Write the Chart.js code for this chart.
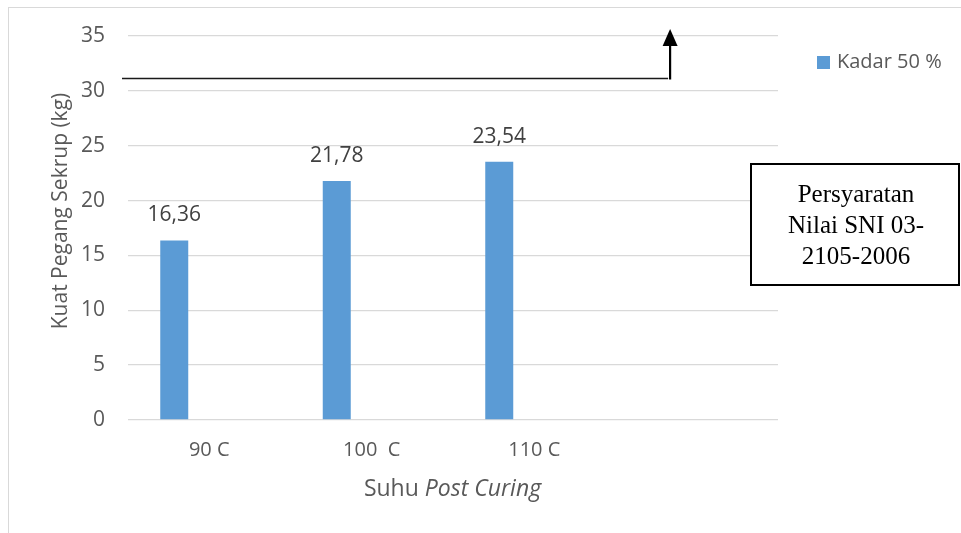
<!DOCTYPE html>
<html>
<head>
<meta charset="utf-8">
<script src="https://cdn.jsdelivr.net/npm/chart.js@4.4.1/dist/chart.umd.min.js"></script>
<style>
  html, body { margin: 0; padding: 0; background: #fff; }
  #wrap { position: relative; width: 961px; height: 533px; overflow: hidden; }
  #frame { position: absolute; left: 8px; top: 7px; width: 1000px; height: 600px;
           border-left: 1px solid #d9d9d9; border-top: 1px solid #d9d9d9; }
  canvas { position: absolute; left: 0; top: 0; }
</style>
</head>
<body>
<div id="wrap">
  <div id="frame"></div>
  <canvas id="c" width="961" height="533"></canvas>
</div>
<script>
// ---- data ----
const categories = ["90 C", "100  C", "110 C", ""];
const seriesName = "Kadar 50 %";
const kadar50 = [16.36, 21.78, 23.54, null];
const emptySeries = [null, null, null, null]; // second (empty) slot of the grouped bars
const yTicks = { min: 0, max: 35, step: 5 };
const sniLevel = 31.2;
const yTitle = "Kuat Pegang Sekrup (kg)";
const xTitleNormal = "Suhu ";
const xTitleItalic = "Post Curing";
const boxLines = ["Persyaratan", "Nilai SNI 03-", "2105-2006"];

const SANS = "'Open Sans', 'Noto Sans', sans-serif";
const GREY = "#595959";
const BAR = "#5B9BD5";

const overlay = {
  id: 'overlay',
  afterDraw(chart) {
    const ctx = chart.ctx;
    const ca = chart.chartArea;
    const ys = chart.scales.y;
    ctx.save();

    // data labels
    const meta = chart.getDatasetMeta(0);
    ctx.font = "21px " + SANS;
    ctx.fillStyle = "#404040";
    ctx.textAlign = "center";
    ctx.textBaseline = "middle";
    meta.data.forEach((bar, i) => {
      const v = kadar50[i];
      if (v === null) return;
      ctx.fillText(v.toFixed(2).replace('.', ','), bar.x, bar.y - 25);
    });

    // y title
    ctx.save();
    ctx.translate(61, 211);
    ctx.rotate(-Math.PI / 2);
    ctx.font = "21px " + SANS;
    ctx.fillStyle = GREY;
    ctx.textAlign = "center";
    ctx.textBaseline = "middle";
    ctx.fillText(yTitle, 0, 0);
    ctx.restore();

    // x title (mixed italic)
    ctx.fillStyle = GREY;
    ctx.textBaseline = "middle";
    ctx.textAlign = "left";
    const fN = "23px " + SANS, fI = "italic 23px " + SANS;
    ctx.font = fN; const wN = ctx.measureText(xTitleNormal).width;
    ctx.font = fI; const wI = ctx.measureText(xTitleItalic).width;
    const xs = 452.5 - (wN + wI) / 2;
    ctx.font = fN; ctx.fillText(xTitleNormal, xs, 489);
    ctx.font = fI; ctx.fillText(xTitleItalic, xs + wN, 489);

    // SNI requirement line + arrow
    const ly = Math.round(ys.getPixelForValue(sniLevel)) + 0.5;
    const ax = ca.left + (ca.right - ca.left) * 0.834;
    ctx.strokeStyle = "#1a1a1a";
    ctx.lineWidth = 1.5;
    ctx.beginPath();
    ctx.moveTo(ca.left - 6, ly);
    ctx.lineTo(ax - 2, ly);
    ctx.stroke();
    ctx.strokeStyle = "#000";
    ctx.lineWidth = 2.2;
    ctx.beginPath();
    ctx.moveTo(ax, ly + 1);
    ctx.lineTo(ax, ca.top + 9);
    ctx.stroke();
    ctx.fillStyle = "#000";
    ctx.beginPath();
    ctx.moveTo(ax, ca.top - 7);
    ctx.lineTo(ax - 7.5, ca.top + 10);
    ctx.lineTo(ax + 7.5, ca.top + 10);
    ctx.closePath();
    ctx.fill();

    // legend
    ctx.fillStyle = BAR;
    ctx.fillRect(817, 56, 13, 13);
    ctx.fillStyle = GREY;
    ctx.font = "20px " + SANS;
    ctx.textAlign = "left";
    ctx.textBaseline = "middle";
    ctx.fillText(seriesName, 837, 62);

    // text box
    ctx.fillStyle = "#fff";
    ctx.fillRect(751, 164, 208, 121);
    ctx.strokeStyle = "#000";
    ctx.lineWidth = 2;
    ctx.strokeRect(751, 164, 208, 121);
    ctx.fillStyle = "#000";
    ctx.font = "25px 'Liberation Serif', 'Times New Roman', serif";
    ctx.textAlign = "center";
    ctx.textBaseline = "middle";
    boxLines.forEach((t, i) => ctx.fillText(t, 856, 195 + i * 31));

    ctx.restore();
  }
};

new Chart(document.getElementById('c'), {
  type: 'bar',
  data: {
    labels: categories,
    datasets: [
      { label: seriesName, data: kadar50, backgroundColor: BAR, borderWidth: 0,
        categoryPercentage: 0.8615, barPercentage: 0.4 },
      { label: "", data: emptySeries, backgroundColor: BAR, borderWidth: 0,
        categoryPercentage: 0.8615, barPercentage: 0.4 }
    ]
  },
  options: {
    responsive: false,
    devicePixelRatio: 1,
    animation: false,
    layout: { padding: { top: 36, right: 183, bottom: 0, left: 0 } },
    plugins: { legend: { display: false }, tooltip: { enabled: false } },
    scales: {
      x: {
        grid: { display: false, drawTicks: false },
        border: { display: false },
        ticks: { color: GREY, font: { family: SANS, size: 20 }, padding: 18, maxRotation: 0, autoSkip: false },
        afterFit(s) { s.height = 113; }
      },
      y: {
        min: yTicks.min, max: yTicks.max,
        grid: { color: "#d9d9d9", lineWidth: 1.3, drawTicks: false },
        border: { display: false },
        ticks: { stepSize: yTicks.step, color: GREY, font: { family: SANS, size: 21 }, padding: 23 },
        afterFit(s) { s.width = 128; }
      }
    }
  },
  plugins: [overlay]
});
</script>
</body>
</html>
